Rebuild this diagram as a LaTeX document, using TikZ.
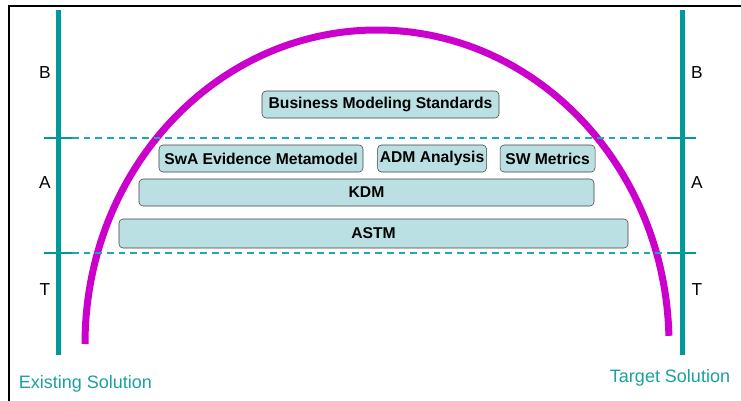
\documentclass[tikz,border=0pt]{standalone}
\usepackage{fontspec}
\setmainfont{Liberation Sans}
\usepackage{tikz}
\usetikzlibrary{positioning}
\definecolor{railteal}{HTML}{009999}
\definecolor{dashteal}{HTML}{22AAAA}
\definecolor{sideteal}{HTML}{1AA0A0}
\definecolor{archmag}{HTML}{CC00CC}
\definecolor{boxfill}{HTML}{BBE0E3}

\begin{document}
\begin{tikzpicture}[
    x=0.75pt, y=-0.75pt,
    layer/.style={rectangle, draw=black!75, fill=boxfill, rounded corners=3pt, minimum height=20.25pt, inner sep=0pt, font=\fontsize{11.75}{13}\selectfont\bfseries},
    tier/.style={font=\fontsize{13}{15}\selectfont},
    rail/.style={line width=3.75pt, draw=railteal},
    tickmark/.style={line width=1.5pt, draw=railteal},
    band/.style={dash pattern=on 5pt off 3.75pt, line width=1.1pt, draw=dashteal},
    side/.style={text=sideteal, font=\fontsize{13.5}{16}\selectfont}
]
\useasboundingbox (0,0) rectangle (741,400);

% Frame
\draw[line width=1.5pt] (9,404) |- (745,6);

% Arch
\draw[archmag, line width=5.25pt] (85,344) arc[start angle=180, end angle=1.5, x radius=219pt, y radius=235.5pt];

% Tier boundaries
\foreach \y in {138,253} {
  \draw[band] (72,\y) -- (668,\y);
  \draw[tickmark] (44,\y) -- (72,\y);
  \draw[tickmark] (668,\y) -- (696,\y);
}

% Rails
\draw[rail] (58,10) -- (58,355);
\draw[rail] (682,10) -- (682,355);

% Tier labels
\node[tier] (lb) at (45,73)  {B};
\node[tier] (la) at (45,183) {A};
\node[tier] (lt) at (45,290) {T};
\node[tier] (rb) at (697,73)  {B};
\node[tier] (ra) at (697,183) {A};
\node[tier] (rt) at (697,290) {T};

% Layers
\node[layer, minimum width=177.75pt] (bms) at (380.5,104.5) {Business Modeling Standards};
\node[layer, minimum width=153pt] (swa) at (261,158.5) {SwA Evidence Metamodel};
\node[layer, minimum width=81.75pt, right=10.5pt of swa] (adm) {ADM Analysis};
\node[layer, minimum width=71.25pt, right=9.75pt of adm] (swm) {SW Metrics};
\node[layer, minimum width=341.25pt] (kdm) at (366.5,192.5) {KDM};
\node[layer, minimum width=381.75pt, minimum height=21.75pt] (astm) at (373.5,233.5) {ASTM};

% Ends
\node[side] (existing) at (85.5,384) {Existing Solution};
\node[side] (target) at (670,378) {Target Solution};

\end{tikzpicture}
\end{document}
